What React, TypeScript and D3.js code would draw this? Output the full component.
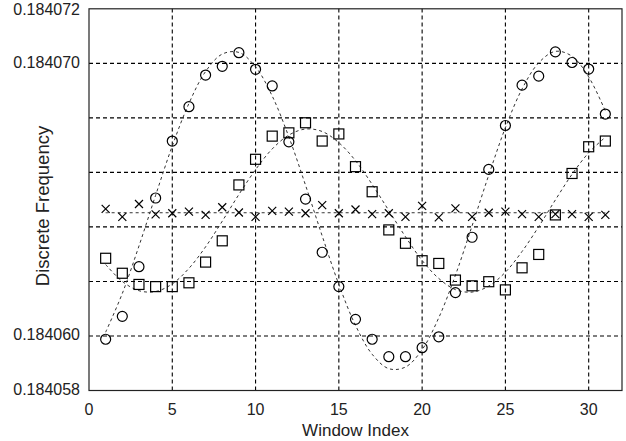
import * as d3 from 'd3';
import * as React from 'react';

// values are in units of 1e-6 above 0.184
const windowIndex = d3.range(1, 32);

const circleValues = [
    59.88, 60.72, 62.54, 65.06, 67.15, 68.41, 69.57, 69.89, 70.39, 69.78,
    69.17, 67.12, 65.02, 63.07, 61.81, 60.61, 59.88, 59.24, 59.24, 59.57,
    59.97, 61.59, 63.62, 66.11, 67.72, 69.20, 69.53, 70.42, 70.03, 69.79,
    68.14,
];

const squareValues = [
    62.85, 62.30, 61.89, 61.81, 61.81, 61.95, 62.71, 63.49, 65.54, 66.48,
    67.33, 67.45, 67.82, 67.15, 67.41, 66.21, 65.29, 63.89, 63.40, 62.76,
    62.66, 62.05, 61.84, 61.99, 61.69, 62.50, 62.99, 64.44, 65.96, 66.94,
    67.15,
];

const crossValues = [
    64.66, 64.37, 64.84, 64.46, 64.50, 64.56, 64.44, 64.72, 64.53, 64.37,
    64.59, 64.56, 64.50, 64.80, 64.50, 64.64, 64.47, 64.50, 64.37, 64.77,
    64.35, 64.68, 64.37, 64.52, 64.56, 64.47, 64.37, 64.47, 64.47, 64.37,
    64.44,
];

// dashed fitted curves at each window index
const circleFit = [
    60.14, 61.56, 63.30, 65.16, 66.97, 68.53, 69.70, 70.34, 70.40, 69.87,
    68.80, 67.30, 65.53, 63.67, 61.89, 60.39, 59.33, 58.80, 58.86, 59.50,
    60.67, 62.23, 64.04, 65.90, 67.64, 69.06, 70.02, 70.44, 70.26, 69.50,
    68.25,
];

const squareFit = [
    62.62, 62.00, 61.66, 61.63, 61.91, 62.48, 63.27, 64.21, 65.19, 66.10,
    66.86, 67.37, 67.59, 67.50, 67.09, 66.43, 65.56, 64.60, 63.64, 62.77,
    62.11, 61.70, 61.61, 61.83, 62.34, 63.10, 64.01, 64.99, 65.93, 66.72,
    67.29,
];

const crossFit = windowIndex.map(() => 64.52);

const xTicks = [0, 5, 10, 15, 20, 25, 30];
const yGrid = [58, 60, 62, 64, 66, 68, 70, 72];
const yTickLabels = [58, 60, 70, 72];

const width = 626;
const height = 441;
const margin = { top: 8.8, right: 4, bottom: 50.5, left: 89 };
const fontFamily = 'Liberation Sans, Arial, Helvetica, sans-serif';

export default function App() {
    const x = d3.scaleLinear()
        .domain([0, 32])
        .range([margin.left, width - margin.right]);
    const y = d3.scaleLinear()
        .domain([58, 72])
        .range([height - margin.bottom, margin.top]);

    const fitLine = d3.line<number>()
        .x((_, i) => x(windowIndex[i]))
        .y(v => y(v))
        .curve(d3.curveCatmullRom);

    const fmt = (v: number) => d3.format('.6f')(0.184 + v * 1e-6);

    const [x0, x1] = x.range();
    const [y0, y1] = y.range();

    return (
        <svg width={width} height={height} style={{ position: 'absolute', left: 0, top: 0 }}
            fontFamily={fontFamily}>
            <rect x={0} y={0} width={width} height={height} fill="#fff" />

            {/* grid */}
            <g stroke="#000" strokeWidth={1.1} strokeDasharray="4,3">
                {yGrid.slice(1, -1).map(v => (
                    <line key={'gy' + v} x1={x0} x2={x1} y1={y(v)} y2={y(v)} />
                ))}
                {xTicks.slice(1).map(v => (
                    <line key={'gx' + v} x1={x(v)} x2={x(v)} y1={y0} y2={y1} />
                ))}
            </g>

            {/* fitted curves */}
            <g fill="none" stroke="#333" strokeWidth={1} strokeDasharray="3,3">
                <path d={fitLine(circleFit) || ''} />
                <path d={fitLine(squareFit) || ''} />
                <path d={fitLine(crossFit) || ''} />
            </g>

            {/* markers */}
            <g fill="none" stroke="#000" strokeWidth={1.2}>
                {circleValues.map((v, i) => (
                    <circle key={'c' + i} cx={x(windowIndex[i])} cy={y(v)} r={5} />
                ))}
                {squareValues.map((v, i) => (
                    <rect key={'s' + i} x={x(windowIndex[i]) - 5} y={y(v) - 5} width={10} height={10} />
                ))}
                {crossValues.map((v, i) => {
                    const cx = x(windowIndex[i]);
                    const cy = y(v);
                    return (
                        <path key={'x' + i} d={`M${cx - 4},${cy - 4}L${cx + 4},${cy + 4}M${cx - 4},${cy + 4}L${cx + 4},${cy - 4}`} />
                    );
                })}
            </g>

            {/* frame */}
            <rect x={x0} y={y1} width={x1 - x0} height={y0 - y1} fill="none" stroke="#222" strokeWidth={1.2} />

            {/* tick labels */}
            <g fontSize={16} fill="#222">
                {xTicks.map(v => (
                    <text key={'tx' + v} x={x(v)} y={y0 + 24} textAnchor="middle">{v}</text>
                ))}
                {yTickLabels.map(v => (
                    <text key={'ty' + v} x={x0 - 9} y={Math.max(y(v), 11)} textAnchor="end"
                        dominantBaseline="middle">{fmt(v)}</text>
                ))}
            </g>

            <text x={(x0 + x1) / 2} y={height - 5} textAnchor="middle" fontSize={17} fill="#222">
                Window Index
            </text>
            <text transform={`translate(49,206) rotate(-90)`} textAnchor="middle"
                fontSize={18.5} fill="#222">
                Discrete Frequency
            </text>
        </svg>
    );
}
